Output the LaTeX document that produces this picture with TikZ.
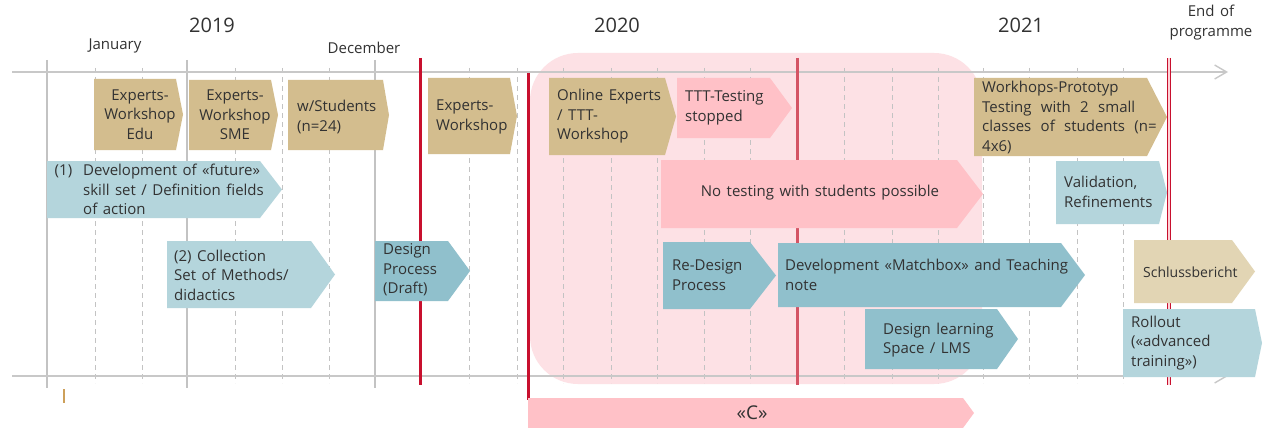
\documentclass[tikz,border=0pt]{standalone}
\usepackage{fontspec}
\setmainfont{Open Sans}[WordSpace=1.4]
\newfontfamily\widespaced{Open Sans}[WordSpace=2.4]
\usetikzlibrary{arrows.meta}

\definecolor{txt}{RGB}{50,50,50}
\definecolor{tan}{RGB}{211,189,142}
\definecolor{ltan}{RGB}{226,213,180}
\definecolor{lblue}{RGB}{180,213,220}
\definecolor{dblue}{RGB}{144,192,204}
\definecolor{pinkbox}{RGB}{255,193,199}
\definecolor{haze}{RGB}{253,225,229}
\definecolor{gridgray}{RGB}{195,195,195}
\definecolor{axisgray}{RGB}{200,200,200}
\definecolor{mred}{RGB}{200,16,46}
\definecolor{softred}{RGB}{212,84,100}
\definecolor{endcore}{RGB}{255,210,215}
\definecolor{tick}{RGB}{205,160,90}

% chevron-shaped bar: name, fill, left, top, right, tip, bottom
\newcommand\phasebar[7]{%
  \fill[#2] (#3,#4) -- (#5,#4) -- (#6,{(#4+#7)/2}) -- (#5,#7) -- (#3,#7) -- cycle;
  \coordinate (#1) at (#3,{(#4+#7)/2});}

\tikzset{
  boxtext/.style={text=txt, font=\fontsize{15}{19.5}\selectfont, inner sep=0pt, align=left},
  yeartext/.style={text=txt, font=\fontsize{20}{24}\selectfont, inner sep=0pt},
  monthtext/.style={text=txt, font=\fontsize{15}{20}\selectfont, inner sep=0pt, align=center},
  solidgrid/.style={draw=gridgray, line width=1.1pt},
  dashgrid/.style={draw=gridgray, line width=1pt, dash pattern=on 5pt off 4pt},
  axis/.style={draw=axisgray, line width=1.6pt, -{Straight Barb[length=12pt,width=14pt,line width=1.4pt]}},
  milestone/.style={draw=mred, line width=3pt},
}

\begin{document}
\begin{tikzpicture}[x=1pt,y=-1pt]
\useasboundingbox (0,0) rectangle (1264,428);
\fill[white] (0,0) rectangle (1264,428);

% highlighted period
\fill[haze, rounded corners=48pt] (530,53) rectangle (982,384);

% month grid
\foreach \x in {47,187,375}
  \draw[solidgrid] (\x,60) -- (\x,388);
\foreach \x in {95,142,235,282,329,469,517,563,611,657,704,750,844,892,938,983,1029,1077,1123}
  \draw[dashgrid] (\x,68) -- (\x,383);

% time axes
\draw[axis] (12,72) -- (1228,72);
\draw[axis] (12,376) -- (1228,376);

% milestones
\draw[milestone] (420,58) -- (420,385);
\draw[milestone] (528,73) -- (528,400);
\draw[draw=softred, line width=3pt] (797,58) -- (797,385);
\draw[draw=mred, line width=1.2pt, double=endcore, double distance=1.4pt] (1169,58) -- (1169,385);
\draw[draw=tick, line width=1.2pt] (64,389) -- (64,403);

% labels above the axis
\node[yeartext] (y2019) at (212,25) {2019};
\node[yeartext] (y2020) at (617,25) {2020};
\node[yeartext] (y2021) at (1021,25) {2021};
\node[monthtext] (jan) at (115,46) {January};
\node[monthtext] (dec) at (364,48) {December};
\node[monthtext] (endprog) at (1211,23) {End of\\programme};

% phases
\phasebar{edu}{tan}{94}{79}{176}{183}{150}
\phasebar{sme}{tan}{189}{80}{271}{278}{150}
\phasebar{stud}{tan}{288}{80}{383}{389}{150}
\phasebar{exp2}{tan}{428}{78}{510}{517}{154}
\phasebar{online}{tan}{549}{78}{665}{676}{155}
\phasebar{ttt}{pinkbox}{677}{78}{770}{792}{138}
\phasebar{proto}{tan}{974}{78}{1147}{1167}{156}
\phasebar{dev1}{lblue}{47}{161}{260}{282}{218}
\phasebar{notest}{pinkbox}{661}{160}{957}{983}{228}
\phasebar{valid}{lblue}{1056}{161}{1159}{1167}{224}
\phasebar{coll}{lblue}{167}{241}{311}{335}{308}
\phasebar{draft}{dblue}{375}{241}{448}{470}{301}
\phasebar{redes}{dblue}{663}{242}{750}{776}{309}
\phasebar{match}{dblue}{778}{243}{1061}{1085}{307}
\phasebar{schluss}{ltan}{1134}{240}{1232}{1255}{303}
\phasebar{lms}{dblue}{865}{309}{997}{1018}{369}
\phasebar{rollout}{lblue}{1123}{309}{1255}{1262}{377}
\phasebar{cbar}{pinkbox}{528}{398}{963}{974}{428}

% phase texts
\node[boxtext, align=center] (t-edu) at (140,114.5) {Experts-\\Workshop\\Edu};
\node[boxtext, align=center] (t-sme) at (235,115) {Experts-\\Workshop\\SME};
\node[boxtext, anchor=west] (t-stud) at (297,117) {w/Students\\(n=24)};
\node[boxtext, anchor=west] (t-exp2) at (436,117) {Experts-\\Workshop};
\node[boxtext, anchor=west] (t-online) at (557,116.5) {Online Experts\\/ TTT-\\Workshop};
\node[boxtext, anchor=west] (t-ttt) at (685,108) {TTT-Testing\\stopped};
\node[boxtext, anchor=west, font=\widespaced\fontsize{15}{19.5}\selectfont] (t-proto) at (982,117.5) {Workhops-Prototyp\\Testing with 2 small\\classes of students (n=\\4x6)};
\node[boxtext, anchor=west] (t-dev1) at (83,189.5) {\makebox[0pt][r]{(1)\hspace{11pt}}Development of «future»\\skill set / Definition fields\\of action};
\node[boxtext] (t-notest) at (820,193) {No testing with students possible};
\node[boxtext, anchor=west] (t-valid) at (1064,192) {Validation,\\Refinements};
\node[boxtext, anchor=west] (t-coll) at (174,275) {(2) Collection\\Set of Methods/\\didactics};
\node[boxtext, anchor=west] (t-draft) at (383,270) {Design\\Process\\(Draft)};
\node[boxtext, anchor=west] (t-redes) at (672,275) {Re-Design\\Process};
\node[boxtext, anchor=west] (t-match) at (785,275) {Development «Matchbox» and Teaching\\note};
\node[boxtext, anchor=west, font=\fontsize{14}{19.5}\selectfont] (t-schluss) at (1143,272) {Schlussbericht};
\node[boxtext, anchor=west] (t-lms) at (883,340) {Design learning\\Space / LMS};
\node[boxtext, anchor=west] (t-rollout) at (1131,343) {Rollout\\(«advanced\\training»)};
\node[boxtext, font=\fontsize{19}{22}\selectfont] (t-cbar) at (752,413) {«C»};
\end{tikzpicture}
\end{document}
